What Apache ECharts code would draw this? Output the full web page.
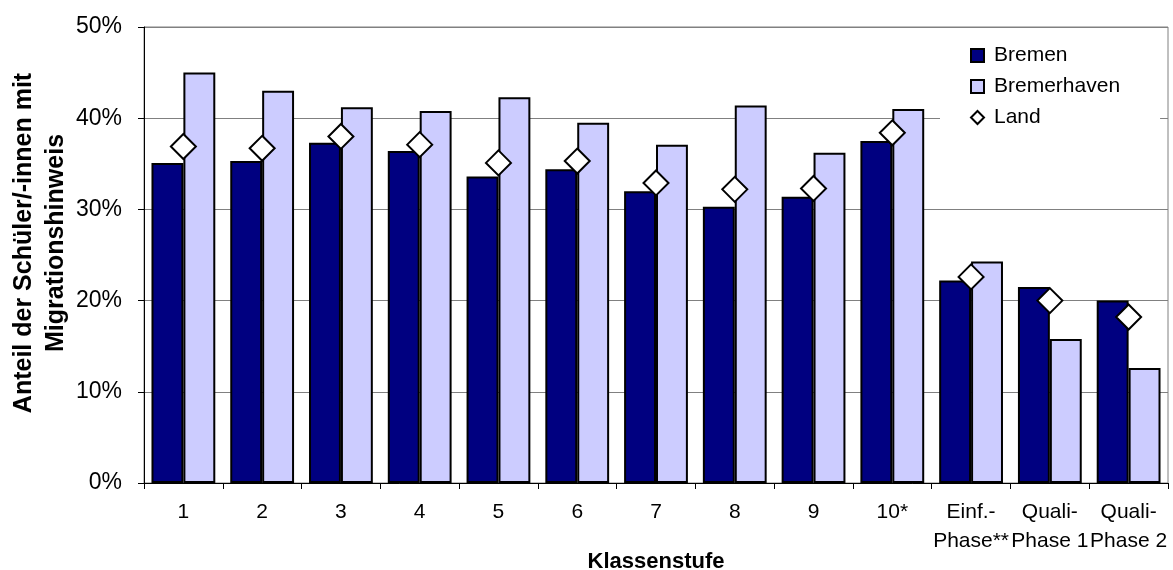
<!DOCTYPE html>
<html><head><meta charset="utf-8">
<script src="https://cdn.jsdelivr.net/npm/echarts@6/dist/echarts.min.js"></script>
<style>html,body{margin:0;padding:0;background:#fff}#c{width:1173px;height:570px}</style>
</head><body><div id="c"></div>
<script>
const categories = ['1','2','3','4','5','6','7','8','9','10*','Einf.-\nPhase**','Quali-\nPhase 1','Quali-\nPhase 2'];
const bremen = [35.1,35.3,37.3,36.4,33.6,34.4,32.0,30.3,31.4,37.5,22.2,21.5,20.0];
const bremerhaven = [45.0,43.0,41.2,40.8,42.3,39.5,37.1,41.4,36.2,41.0,24.3,15.8,12.6];
const land = [36.9,36.7,38.0,37.1,35.1,35.3,32.9,32.2,32.3,38.4,22.6,20.0,18.2];
const yTicks = [0,10,20,30,40,50];
const xTitle = 'Klassenstufe';
const yTitle = 'Anteil der Schüler/-innen mit\nMigrationshinweis';

const FF = '"Liberation Sans", Arial, sans-serif';
const chart = echarts.init(document.getElementById('c'), null, {renderer:'canvas'});
chart.setOption({
  animation:false,
  backgroundColor:'#fff',
  textStyle:{fontFamily:FF, color:'#000'},
  grid:{left:144, right:5, top:27, bottom:87, show:true, borderColor:'#808080', borderWidth:1,
        containLabel:false, outerBoundsMode:'none'},
  legend:{
    orient:'vertical', left:940, top:35, z:1,
    backgroundColor:'#fff', padding:[10,40,28,30],
    itemWidth:13, itemHeight:13, itemGap:10,
    textStyle:{fontFamily:FF, fontSize:21, color:'#000', padding:[0,0,0,5]},
    data:[{name:'Bremen',icon:'rect'},{name:'Bremerhaven',icon:'rect'},{name:'Land',icon:'diamond'}]
  },
  xAxis:{
    type:'category', data:categories,
    axisLine:{lineStyle:{color:'#000',width:1}},
    axisTick:{show:true, alignWithLabel:false, length:6, lineStyle:{color:'#000'}},
    axisLabel:{fontFamily:FF, fontSize:21, color:'#000', margin:15, lineHeight:29, interval:0}
  },
  yAxis:{
    type:'value', min:yTicks[0], max:yTicks[yTicks.length-1], interval:10,
    axisLine:{show:true, lineStyle:{color:'#000',width:1}},
    axisTick:{show:true, length:6, lineStyle:{color:'#000'}},
    axisLabel:{fontFamily:FF, fontSize:23, color:'#000', margin:22, formatter:'{value}%'},
    splitLine:{show:true, lineStyle:{color:'#808080', width:1}}
  },
  graphic:[{
    type:'text', x:40, y:243, rotation:Math.PI/2,
    style:{text:yTitle, fontFamily:FF, fontSize:25, fontWeight:'bold',
      fill:'#000', align:'center', verticalAlign:'middle', lineHeight:32}
  },{
    type:'text', x:656, y:562,
    style:{text:xTitle, fontFamily:FF, fontSize:22, fontWeight:'bold',
      fill:'#000', align:'center', verticalAlign:'middle'}
  }],
  series:[
    {name:'Bremen', type:'bar', data:bremen, barGap:'0%', barCategoryGap:'19%',
     itemStyle:{color:'#000080', borderColor:'#000', borderWidth:2}},
    {name:'Bremerhaven', type:'bar', data:bremerhaven, barGap:'0%', barCategoryGap:'19%',
     itemStyle:{color:'#CCCCFF', borderColor:'#000', borderWidth:2}},
    {name:'Land', type:'scatter', data:land, symbol:'diamond', symbolSize:[25,25], z:5,
     itemStyle:{color:'#fff', borderColor:'#000', borderWidth:2, opacity:1}}
  ]
});
</script></body></html>
